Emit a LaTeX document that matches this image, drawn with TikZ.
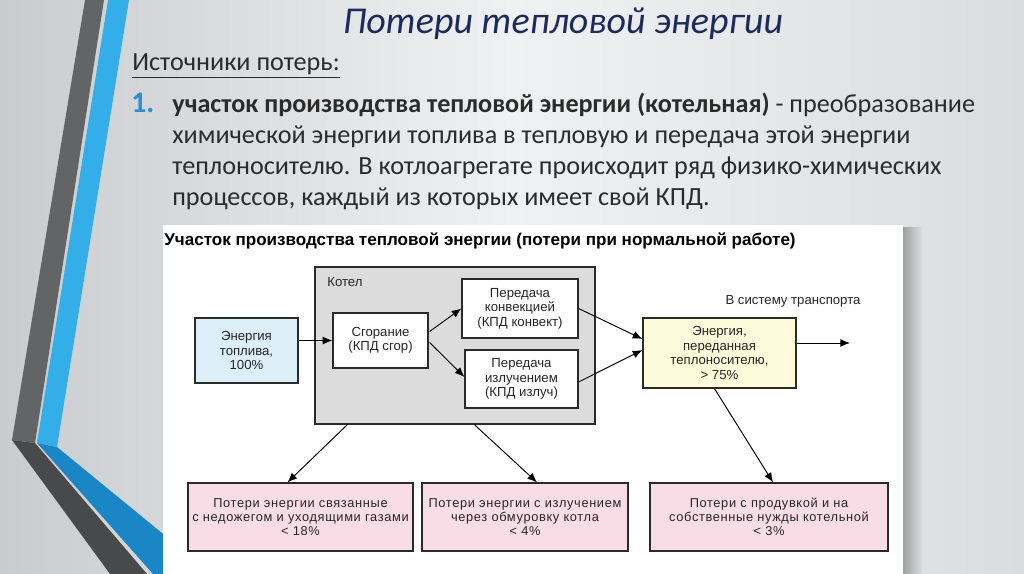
\documentclass[tikz,border=0pt]{standalone}
\usepackage{xcolor}
\usepackage{fontspec}
\setmainfont{Carlito}
\newfontfamily\diagfont{Liberation Sans}
\usepackage{tikz}
\usetikzlibrary{positioning}
\usetikzlibrary{arrows.meta}
\usetikzlibrary{calc}
\definecolor{slideL}{HTML}{C9CCCF}
\definecolor{slideM}{HTML}{F0F1F2}
\definecolor{slideR}{HTML}{DADDDF}
\definecolor{bandgray}{HTML}{636466}
\definecolor{bandgraydk}{HTML}{48494B}
\definecolor{bandblue}{HTML}{33AEE8}
\definecolor{bandbluedk}{HTML}{1A86C6}
\definecolor{titlenavy}{HTML}{1C2A5C}
\definecolor{bodytext}{HTML}{2B2B2B}
\definecolor{numblue}{HTML}{2E8FD0}
\definecolor{boxline}{HTML}{2A2A2A}
\definecolor{fuelblue}{HTML}{DCEEF8}
\definecolor{heatyellow}{HTML}{FDFCDA}
\definecolor{kotelgray}{HTML}{DCDCDC}
\definecolor{losspink}{HTML}{F9DDE6}
\tikzstyle{box}=[rectangle,draw=boxline,line width=0.7pt,inner sep=0pt,align=center,text=black!85,font=\diagfont\fontsize{7.5}{8.2}\selectfont]
\tikzstyle{lossbox}=[box,fill=losspink,font=\diagfont\fontsize{7.3}{7.8}\selectfont\addfontfeatures{LetterSpace=5}]
\tikzstyle{edge}=[draw,line width=0.55pt,-{Latex[length=5.5pt,width=4.5pt]}]
\tikzstyle{body}=[text=bodytext,inner sep=0pt,font=\fontsize{14.9}{18}\selectfont]
\tikzstyle{small}=[inner sep=0pt,text=black!85,font=\diagfont\fontsize{7.5}{9}\selectfont]

\begin{document}
\begin{tikzpicture}[x=0.02cm,y=-0.02cm]

  \def\u{0.02cm};

  \useasboundingbox (0,0) rectangle (1024,574);
  \shade[left color=slideL, right color=slideR, middle color=slideM] (0,0) rectangle (1024,574);

  % left decoration
  \fill[bandgray] (85,0) -- (104,0) -- (35,443) -- (12,440) -- cycle;
  \fill[bandgraydk] (12,440) -- (35,443) -- (147,574) -- (110,574) -- cycle;
  \fill[bandblue] (108,0) -- (129,0) -- (57,447) -- (37,443) -- cycle;
  \fill[bandbluedk] (37,443) -- (57,447) -- (212,574) -- (153,574) -- cycle;

  % slide text
  \node[anchor=base, text=titlenavy, inner sep=0pt, font=\itshape\fontsize{21.6}{26}\selectfont] (title) at (563,34) {Потери тепловой энергии};
  \node[anchor=base west, body] (sources) at (132,71) {\underline{Источники потерь:}};
  \node[anchor=base west, inner sep=0pt, text=numblue, font=\bfseries\fontsize{17}{18}\selectfont] (num) at (131,113) {1.};

  \foreach \y/\name/\txt in {113/line1/{\textbf{участок производства тепловой энергии (котельная)} - преобразование},
                             144/line2/{химической энергии топлива в тепловую и передача этой энергии},
                             175/line3/{теплоносителю. В котлоагрегате происходит ряд физико-химических},
                             206/line4/{процессов, каждый из которых имеет свой КПД.}}
          \node[anchor=base west, body] (\name) at (172,\y) {\txt};

  % diagram panel
  \shade[left color=gray!75, right color=slideR] (903,228) rectangle (922,574);
  \fill[white] (163,225) rectangle (903,574);
  \node[anchor=west, inner sep=0pt, font=\diagfont\bfseries\fontsize{9.7}{11}\selectfont] (ptitle) at (164,241) {Участок производства тепловой энергии (потери при нормальной работе)};

  \foreach \x/\y/\w/\h/\name/\clr/\label in {455/345.5/280/157/kotel/kotelgray/{},
                                              246.5/350.5/103/65/fuel/fuelblue/{Энергия\\топлива,\\100\%},
                                              380.5/340.5/95/55/burn/white/{Сгорание\\(КПД сгор)},
                                              520/308.5/116/59/conv/white/{Передача\\конвекцией\\(КПД конвект)},
                                              521.5/379/113/58/rad/white/{Передача\\излучением\\(КПД излуч)},
                                              719.5/353/153/70/heat/heatyellow/{Энергия,\\переданная\\теплоносителю,\\> 75\%}}
          \node[box, fill=\clr, minimum width=\w*\u, minimum height=\h*\u] (\name) at (\x,\y) {\label};

  \foreach \x/\w/\name/\label in {300.5/225/loss1/{Потери энергии связанные\\с недожегом и уходящими газами\\< 18\%},
                                  525/206/loss2/{Потери энергии с излучением\\через обмуровку котла\\< 4\%},
                                  769/238/loss3/{Потери с продувкой и на\\собственные нужды котельной\\< 3\%}}
          \node[lossbox, minimum width=\w*\u, minimum height=68*\u] (\name) at (\x,517) {\label};

  \node[anchor=west, small] (kotellabel) at (327,282) {Котел};
  \node[small] (transportlabel) at (793,301) {В систему транспорта};
  \coordinate (transport) at (850,343);

  % connectors
  \path[edge] (fuel.east |- burn.west) -- (burn.west);
  \path[edge] ($(burn.east)+(1,-9)$) -- (conv.west);
  \path[edge] ($(burn.east)+(1,2)$) -- ($(rad.west)+(0,-2)$);
  \path[edge] (conv.east) -- ($(heat.west)+(0,-14)$);
  \path[edge] ($(rad.east)+(0,3)$) -- ($(heat.west)+(0,-3)$);
  \path[edge] ($(heat.east)+(0,-10)$) -- (transport);
  \path[edge] ($(kotel.south west)+(33,0)$) -- ($(loss1.north)+(-13,0)$);
  \path[edge] ($(kotel.south west)+(160,0)$) -- ($(loss2.north)+(12,0)$);
  \path[edge] ($(heat.south)+(-5,0)$) -- ($(loss3.north)+(4,0)$);

\end{tikzpicture}
\end{document}
